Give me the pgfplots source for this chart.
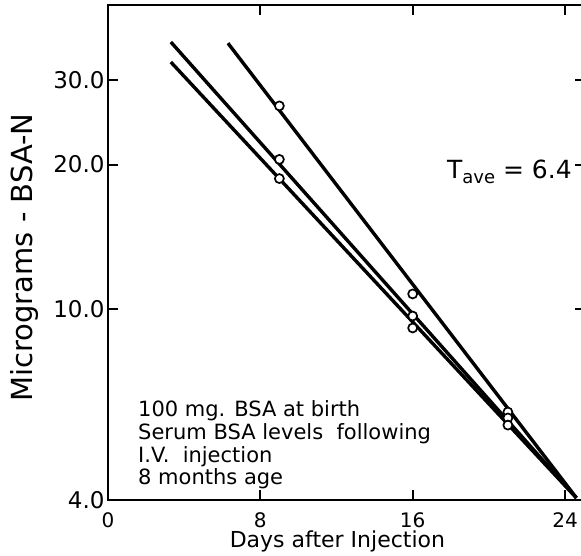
\documentclass[border=0pt]{standalone}
\usepackage{fontspec}
\setmainfont{DejaVu Sans}
\usepackage{pgfplots}
\pgfplotsset{compat=1.18}
\begin{document}
\begin{tikzpicture}
\begin{semilogyaxis}[
  scale only axis,
  width=473pt, height=495pt,
  xmin=0, xmax=24.84, ymin=4, ymax=43,
  axis x line*=box, axis y line*=left,
  axis line style={line width=2.8pt, line cap=rect},
  xtick={0,8,16,24},
  ytick={4,10,20,30},
  yticklabels={4.0,10.0,20.0,30.0},
  yminorticks=false,
  tick align=inside,
  major tick length=10pt,
  every tick/.style={black, line width=2pt},
  /pgf/number format/assume math mode=true,
  xticklabel style={font=\fontsize{20}{20}\selectfont, anchor=base, yshift=-28pt},
  yticklabel style={font=\fontsize{23}{23}\selectfont},
  xlabel={Days after Injection},
  xlabel style={font=\fontsize{22}{22}\selectfont, at={(rel axis cs:0.485,0)}, anchor=base, yshift=-48pt},
  ylabel={Micrograms - BSA-N},
  ylabel style={font=\fontsize{29}{29}\selectfont, at={([xshift=-83pt,yshift=-5pt]rel axis cs:0,0.5)}, anchor=center},
  clip=false,
]
\coordinate (o) at (rel axis cs:0,0);
% fitted lines
\addplot[black, line width=3.4pt, no marks] coordinates {(6.3,35.8) (24.6,4.04)};
\addplot[black, line width=3.4pt, no marks] coordinates {(3.3,36.0) (24.6,4.04)};
\addplot[black, line width=3.4pt, no marks] coordinates {(3.3,32.7) (24.6,4.04)};
% measured points
\addplot[only marks, mark=*, mark size=4.5pt, mark options={fill=white, draw=black, line width=1.7pt}]
  coordinates {(9,26.5) (9,20.5) (9,18.7) (16,10.75) (16,9.67) (16,9.13) (21,6.10) (21,5.93) (21,5.73)};
% right-hand ticks (axis edge cropped)
\draw[line width=2pt] ([xshift=-6pt]axis cs:24.84,30) -- (axis cs:24.84,30);
\draw[line width=2pt] ([xshift=-6pt]axis cs:24.84,20) -- (axis cs:24.84,20);
\draw[line width=2pt] ([xshift=-6pt]axis cs:24.84,10) -- (axis cs:24.84,10);
\node[anchor=base west, font=\fontsize{25}{25}\selectfont, inner sep=0pt] at (axis cs:17.8,18.75)
  {T\raisebox{-5pt}{\fontsize{18}{18}\selectfont ave} = 6.4};
\node[anchor=base west, font=\fontsize{21}{21}\selectfont, inner sep=0pt] at (axis cs:1.576,5.96) {100 mg. BSA at birth};
\node[anchor=base west, font=\fontsize{21}{21}\selectfont, inner sep=0pt] at (axis cs:1.576,5.34) {Serum BSA levels \ following};
\node[anchor=base west, font=\fontsize{21}{21}\selectfont, inner sep=0pt] at (axis cs:1.576,4.78) {I.V. \ injection};
\node[anchor=base west, font=\fontsize{21}{21}\selectfont, inner sep=0pt] at (axis cs:1.576,4.30) {8 months age};
\end{semilogyaxis}
\pgfresetboundingbox
\path (o) ++(-108pt,-56pt) rectangle ++(581pt,556pt);
\end{tikzpicture}
\end{document}
